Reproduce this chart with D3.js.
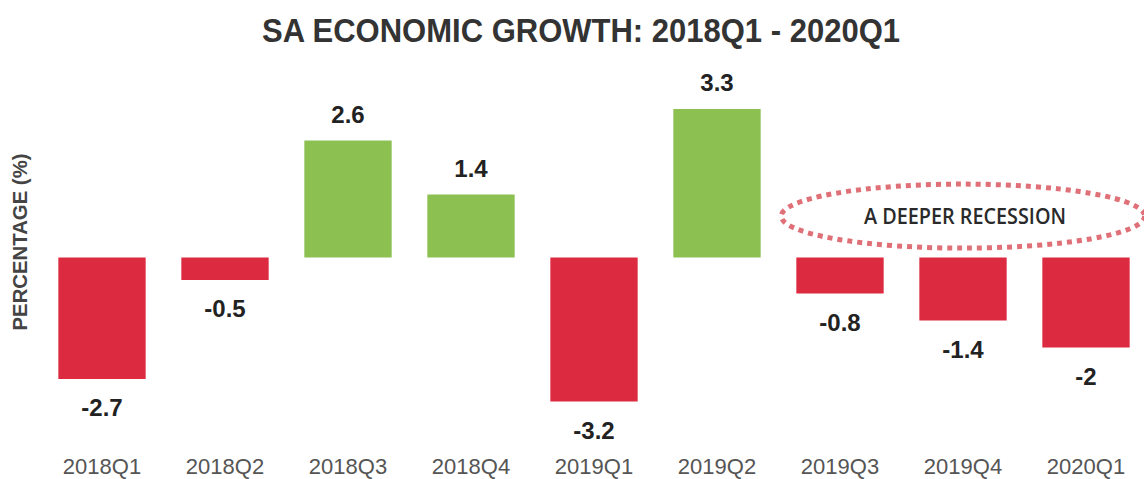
<!DOCTYPE html>
<html>
<head>
<meta charset="utf-8">
<script src="https://cdn.jsdelivr.net/npm/d3@7"></script>
<style>
  html, body { margin: 0; padding: 0; background: #fff; }
  svg { display: block; }
</style>
</head>
<body>
<svg id="chart" width="1144" height="479"></svg>
<script>
// Quarterly GDP growth, seasonally adjusted and annualised (%)
const quarters = ["2018Q1", "2018Q2", "2018Q3", "2018Q4", "2019Q1", "2019Q2", "2019Q3", "2019Q4", "2020Q1"];
const growth = [-2.7, -0.5, 2.6, 1.4, -3.2, 3.3, -0.8, -1.4, -2];
const valueLabels = ["-2.7", "-0.5", "2.6", "1.4", "-3.2", "3.3", "-0.8", "-1.4", "-2"];
const recessionQuarters = ["2019Q3", "2019Q4", "2020Q1"];
const recessionNote = "A DEEPER RECESSION";

const svg = d3.select("#chart");

const x = d3.scaleBand()
  .domain(quarters)
  .range([40.5, 1147.5])
  .paddingInner(0.29)
  .paddingOuter(0.145);

const y = d3.scaleLinear()
  .domain([-4, 4])
  .range([437.5, 77.5]);

const RED = "#dc2a40";
const GREEN = "#8cc152";
const FONT = "Liberation Sans, Arial, sans-serif";

// Title
svg.append("text")
  .attr("x", 581).attr("y", 42)
  .attr("text-anchor", "middle")
  .attr("font-family", FONT)
  .attr("font-weight", "bold")
  .attr("font-size", 33)
  .attr("fill", "#333")
  .attr("textLength", 638)
  .attr("lengthAdjust", "spacingAndGlyphs")
  .text("SA ECONOMIC GROWTH: 2018Q1 - 2020Q1");

// Y-axis title
svg.append("text")
  .attr("transform", "translate(27,242) rotate(-90)")
  .attr("text-anchor", "middle")
  .attr("font-family", FONT)
  .attr("font-weight", "bold")
  .attr("font-size", 20)
  .attr("fill", "#444")
  .attr("textLength", 177)
  .attr("lengthAdjust", "spacingAndGlyphs")
  .text("PERCENTAGE (%)");

const data = quarters.map((q, i) => ({ q, v: growth[i], label: valueLabels[i] }));

// Bars
svg.append("g").selectAll("rect")
  .data(data)
  .join("rect")
  .attr("x", d => x(d.q))
  .attr("width", x.bandwidth())
  .attr("y", d => y(Math.max(0, d.v)))
  .attr("height", d => Math.abs(y(d.v) - y(0)))
  .attr("fill", d => d.v < 0 ? RED : GREEN);

// Value labels
svg.append("g").selectAll("text")
  .data(data)
  .join("text")
  .attr("x", d => x(d.q) + x.bandwidth() / 2)
  .attr("y", d => d.v >= 0 ? y(d.v) - 18 : y(d.v) + 37)
  .attr("text-anchor", "middle")
  .attr("font-family", FONT)
  .attr("font-weight", "bold")
  .attr("font-size", 24)
  .attr("fill", "#222")
  .text(d => d.label);

// Category axis (labels only)
const xAxis = svg.append("g")
  .attr("transform", "translate(0,474)")
  .call(d3.axisBottom(x).tickSize(0).tickPadding(0));
xAxis.select(".domain").remove();
xAxis.selectAll("text")
  .attr("dy", 0)
  .attr("font-family", FONT)
  .attr("font-size", 22)
  .attr("fill", "#555");

// Dotted ellipse highlighting the recession quarters
const rStart = x(recessionQuarters[0]);
const rEnd = x(recessionQuarters[recessionQuarters.length - 1]) + x.bandwidth();
const cx = (rStart + rEnd) / 2;
const cy = y(0.92);
svg.append("ellipse")
  .attr("cx", cx).attr("cy", cy)
  .attr("rx", (rEnd - rStart) / 2 + 15).attr("ry", 32)
  .attr("fill", "none")
  .attr("stroke", "#e07078")
  .attr("stroke-width", 5)
  .attr("stroke-dasharray", "5 5");

svg.append("text")
  .attr("x", cx + 2).attr("y", cy + 8)
  .attr("text-anchor", "middle")
  .attr("font-family", "Open Sans, Liberation Sans, sans-serif")
  .attr("font-weight", 600)
  .attr("font-size", 21)
  .attr("fill", "#2a2a2a")
  .attr("textLength", 202)
  .attr("lengthAdjust", "spacingAndGlyphs")
  .text(recessionNote);
</script>
</body>
</html>
